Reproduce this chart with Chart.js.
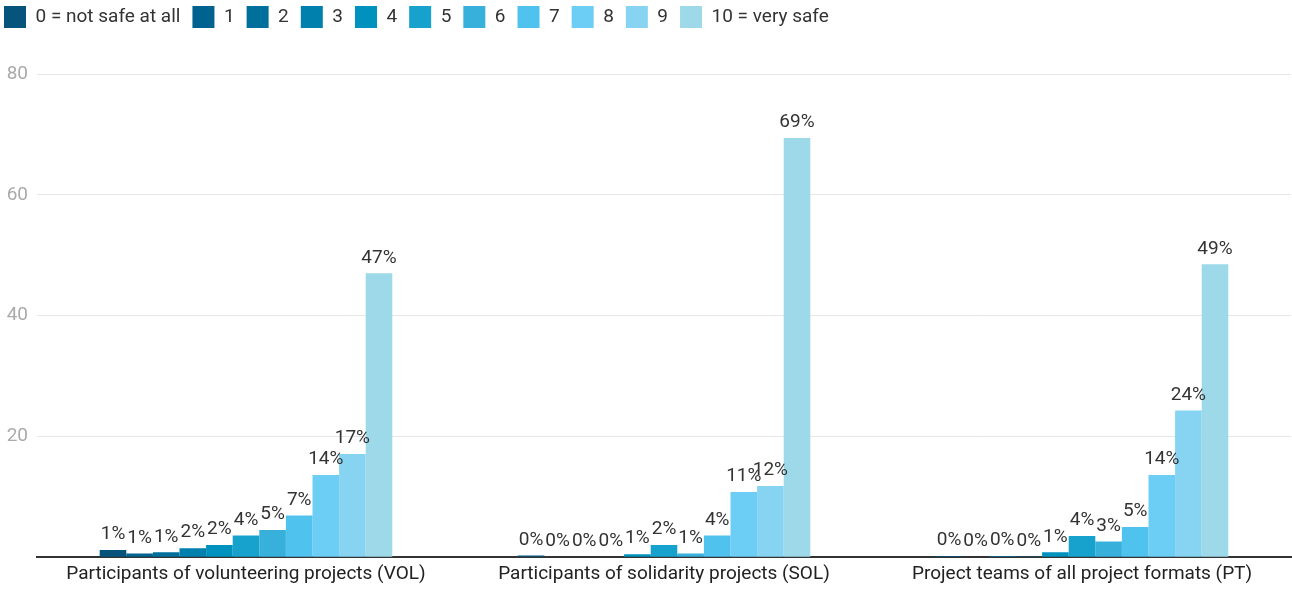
<!DOCTYPE html>
<html>
<head>
<meta charset="utf-8">
<script src="https://cdn.jsdelivr.net/npm/chart.js@4/dist/chart.umd.min.js"></script>
<style>
  html, body { margin: 0; padding: 0; background: #fff; }
  #wrap { position: relative; width: 1292px; height: 592px; overflow: hidden; }
  #chart { position: absolute; left: 0; top: -4px; }
</style>
</head>
<body>
<div id="wrap"><canvas id="chart" width="1292" height="596"></canvas></div>
<script>
// Groups on the x axis
const groups = [
    'Participants of volunteering projects (VOL)',
    'Participants of solidarity projects (SOL)',
    'Project teams of all project formats (PT)'
];

// Safety scores (legend)
const scores = ['0 = not safe at all', '1', '2', '3', '4', '5', '6', '7', '8', '9', '10 = very safe'];

// Share of answers per score, in % (order: VOL, SOL, PT)
const score0  = [1.2, 0.3, 0.2];
const score1  = [0.6, 0, 0];
const score2  = [0.8, 0, 0.2];
const score3  = [1.5, 0, 0.1];
const score4  = [2.0, 0.5, 0.8];
const score5  = [3.6, 2.0, 3.5];
const score6  = [4.5, 0.6, 2.6];
const score7  = [6.9, 3.6, 5.0];
const score8  = [13.6, 10.8, 13.6];
const score9  = [17.1, 11.8, 24.3];
const score10 = [47.0, 69.4, 48.5];

const yTicks = [20, 40, 60, 80];

const colors = [
    '#06547c', '#00628e', '#006f9b', '#0080ac', '#0092be', '#17a2cd',
    '#38b0dc', '#50c2ee', '#6ccef5', '#86d4f1', '#9dd9e8'
];

const series = [score0, score1, score2, score3, score4, score5, score6, score7, score8, score9, score10];

// Percent labels above each bar
const barLabels = {
    id: 'barLabels',
    afterDatasetsDraw(chart) {
        const ctx = chart.ctx;
        ctx.save();
        ctx.font = '19px Roboto';
        ctx.fillStyle = '#333';
        ctx.textAlign = 'center';
        ctx.textBaseline = 'bottom';
        chart.data.datasets.forEach((ds, i) => {
            chart.getDatasetMeta(i).data.forEach((bar, j) => {
                ctx.fillText(Math.round(ds.data[j]) + '%', bar.x, bar.y - 6);
            });
        });
        ctx.restore();
    }
};

// Leave room between the legend and the plot, and nudge the legend to the corner
const legendGap = {
    id: 'legendGap',
    beforeInit(chart) {
        const fit = chart.legend.fit;
        chart.legend.fit = function () {
            fit.bind(chart.legend)();
            this.height += 34;
        };
    },
    afterLayout(chart) {
        chart.legend.left -= 8;
        chart.legend.top -= 2;
    }
};

new Chart(document.getElementById('chart'), {
    type: 'bar',
    data: {
        labels: groups,
        datasets: series.map((d, i) => ({
            label: scores[i],
            data: d,
            backgroundColor: colors[i],
            borderWidth: 0
        }))
    },
    options: {
        responsive: false,
        animation: false,
        layout: { padding: { left: 0, right: 1, top: 0, bottom: 0 } },
        plugins: {
            legend: {
                align: 'start',
                labels: {
                    boxWidth: 22,
                    boxHeight: 22,
                    padding: 12,
                    color: '#333',
                    font: { family: 'Roboto', size: 19 }
                }
            },
            tooltip: { enabled: false }
        },
        datasets: {
            bar: { categoryPercentage: 0.7, barPercentage: 1 }
        },
        scales: {
            y: {
                min: 0,
                max: 80,
                afterBuildTicks: axis => { axis.ticks = [0].concat(yTicks).map(v => ({ value: v })); },
                afterFit: axis => { axis.width = 37; },
                ticks: {
                    color: '#aaa',
                    padding: 9,
                    font: { family: 'Roboto', size: 19 },
                    callback: v => v === 0 ? '' : v
                },
                grid: { color: '#e6e6e6', drawTicks: false },
                border: { display: false }
            },
            x: {
                ticks: {
                    color: '#222',
                    padding: 6,
                    font: { family: 'Roboto', size: 19 }
                },
                grid: { display: false, drawTicks: false },
                border: { color: '#333', width: 2 }
            }
        }
    },
    plugins: [barLabels, legendGap]
});
</script>
</body>
</html>
